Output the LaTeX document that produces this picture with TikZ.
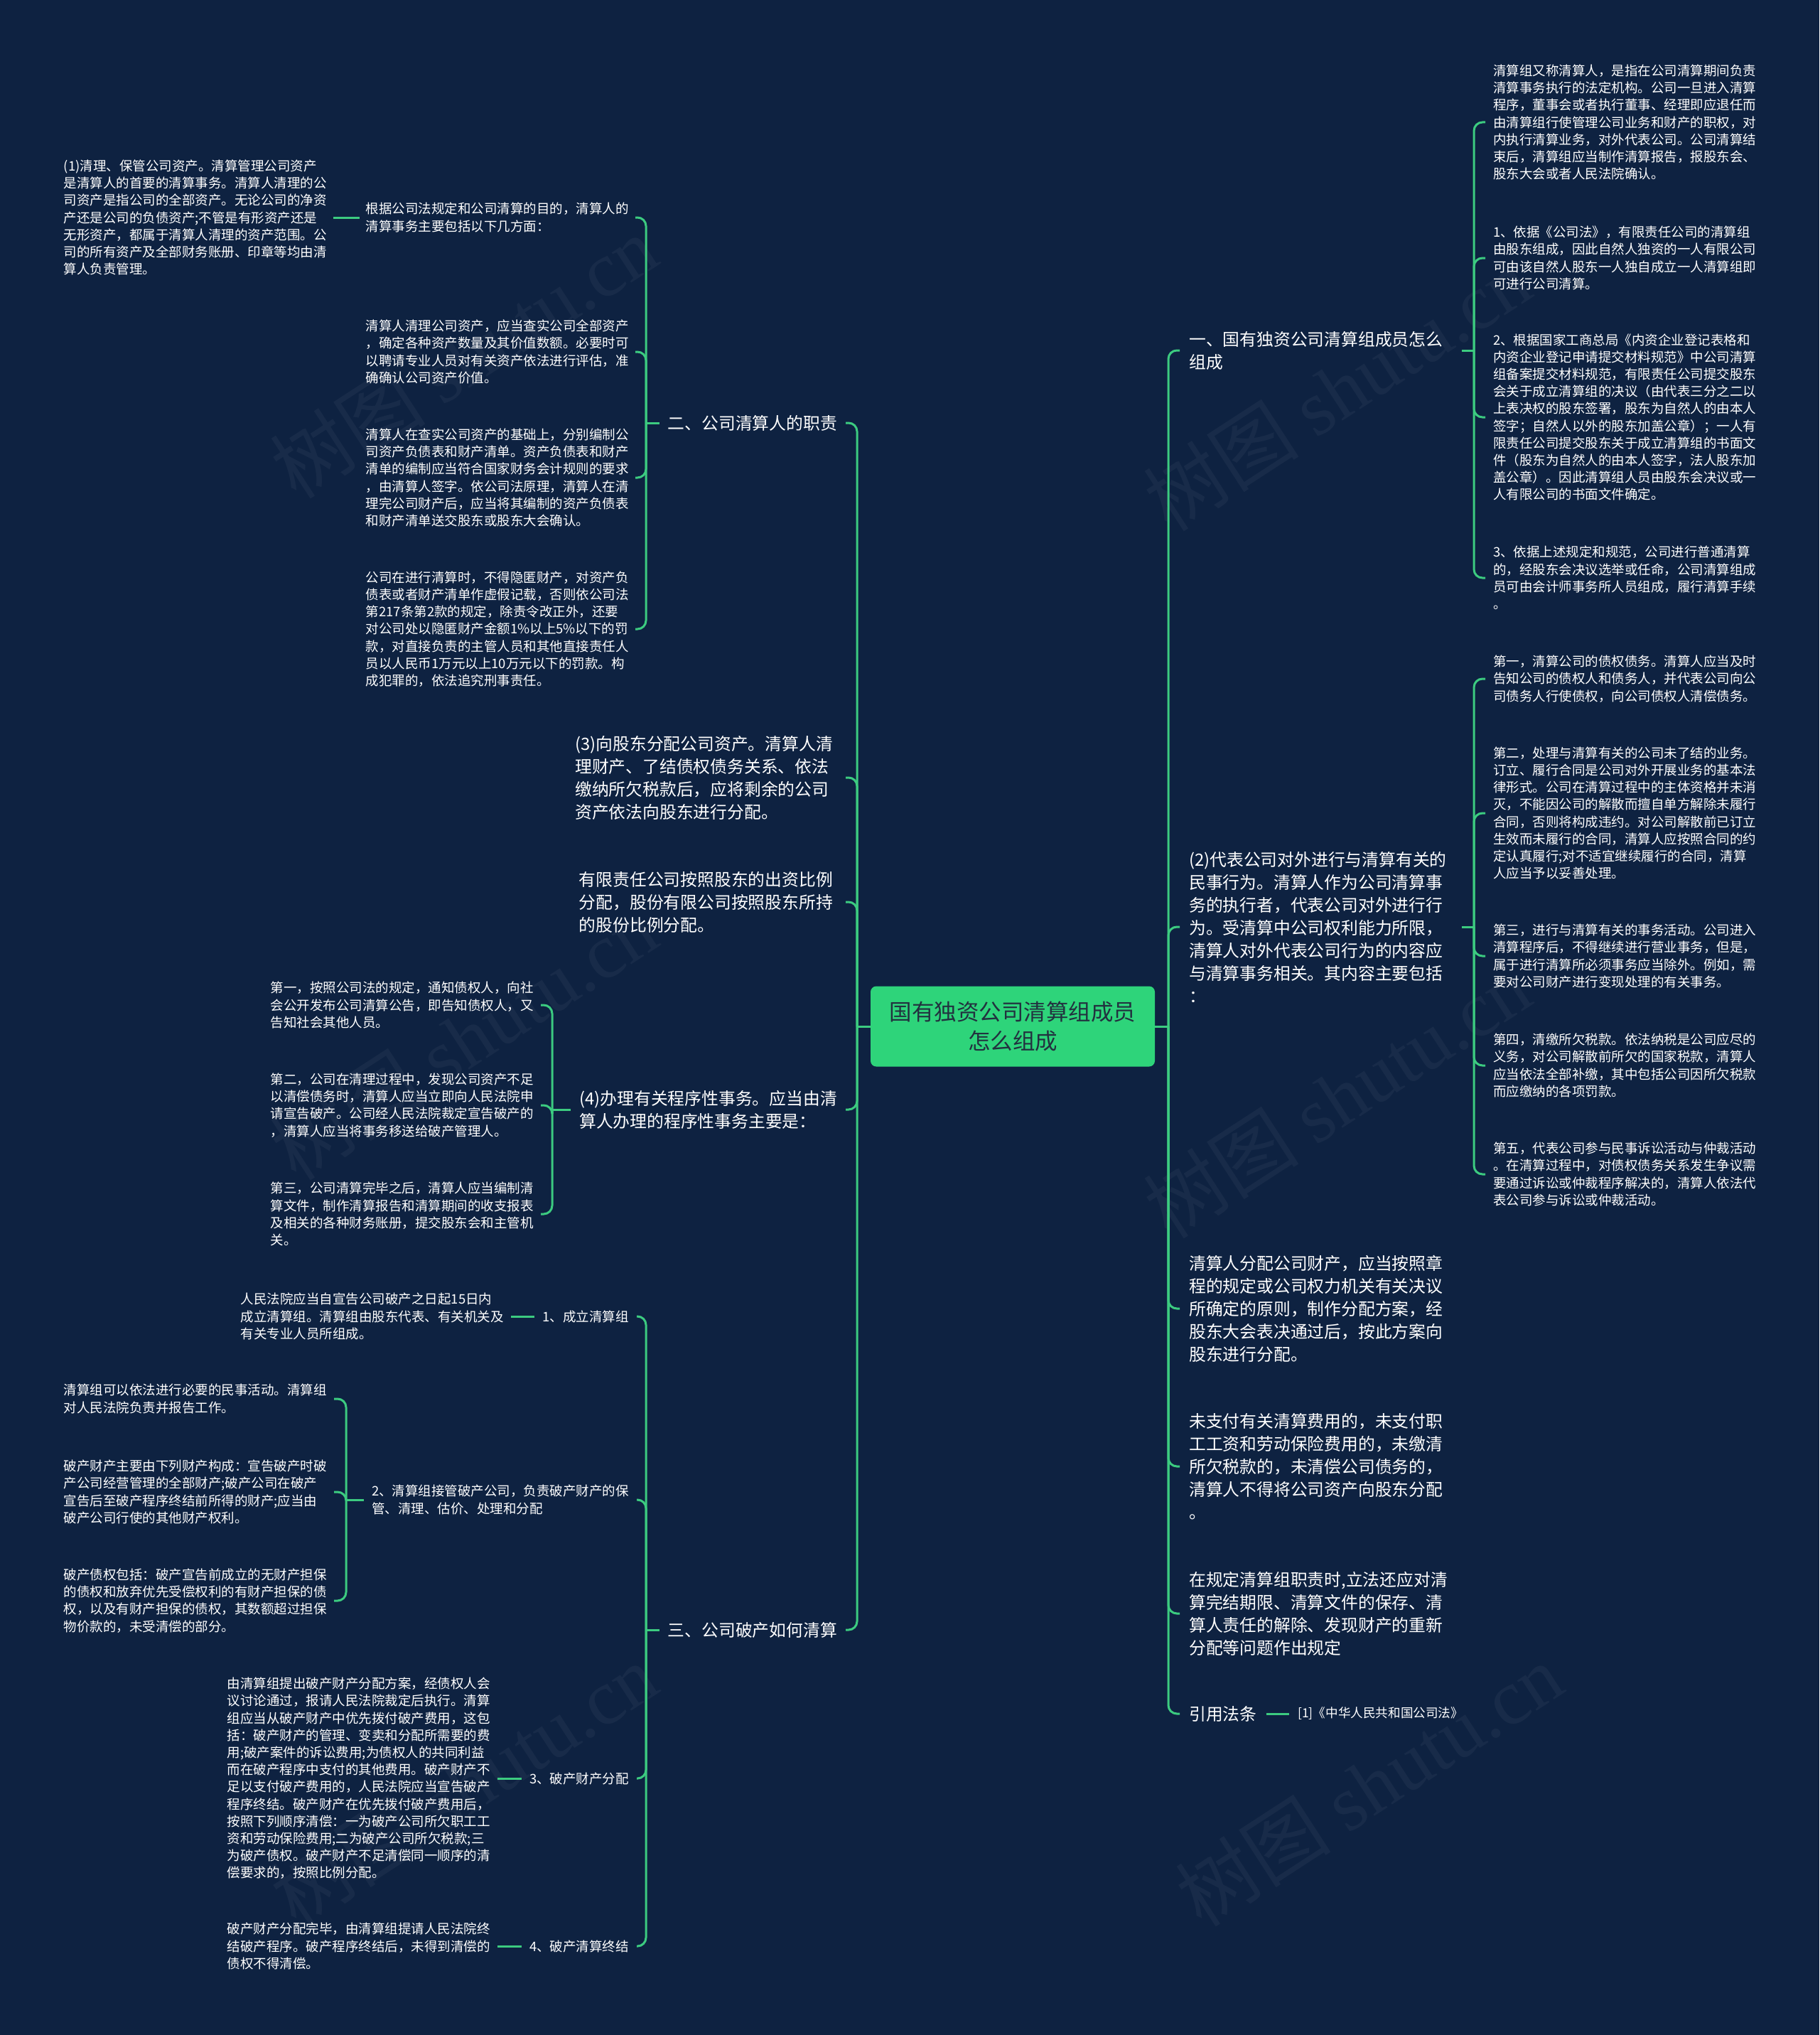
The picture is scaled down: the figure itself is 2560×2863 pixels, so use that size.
\documentclass[tikz,border=0pt]{standalone}
\usepackage{fontspec}
\setmainfont{Noto Sans CJK SC}
\newfontfamily\wmlatin{Liberation Serif}
\definecolor{bg}{HTML}{0E2241}
\definecolor{lc}{HTML}{3CCB80}
\definecolor{rootc}{HTML}{2ED47A}
\definecolor{roottext}{HTML}{22313F}
\tikzset{
  edge/.style={draw=lc, line width=3pt, rounded corners=12pt},
  sm/.style={text=white, font=\fontsize{18.5}{24.2}\selectfont, align=left, inner ysep=0pt},
  big/.style={text=white, font=\fontsize{23.8}{32}\selectfont, align=left, inner ysep=0pt},
  rone/.style={big, anchor=west, inner xsep=13pt},
  rtwo/.style={sm, anchor=west, inner xsep=11pt},
  lone/.style={big, anchor=east, inner xsep=12pt},
  ltwo/.style={sm, anchor=east, inner xsep=9pt},
  citebox/.style={text=white, font=\fontsize{17.6}{22}\selectfont, anchor=west, inner xsep=12pt, inner ysep=0pt},
  rootbox/.style={fill=rootc, rounded corners=8pt, minimum width=400pt, minimum height=113pt, text=roottext, font=\fontsize{31.5}{41}\selectfont, align=center, inner sep=0pt},
  wm/.style={text=white, opacity=0.045, font=\fontsize{110}{110}\selectfont, rotate=33, inner sep=0pt}
}
\begin{document}
\begin{tikzpicture}[x=1pt,y=-1pt]
\path[fill=bg] (0,0) rectangle (2560,2863);
\useasboundingbox (0,0) rectangle (2560,2863);

% watermarks
\node[wm] (w1) at (652,502) {树图 {\wmlatin shutu.cn}};
\node[wm] (w2) at (1881,548) {树图 {\wmlatin shutu.cn}};
\node[wm] (w3) at (652,1461) {树图 {\wmlatin shutu.cn}};
\node[wm] (w4) at (1881,1543) {树图 {\wmlatin shutu.cn}};
\node[wm] (w5) at (652,2511) {树图 {\wmlatin shutu.cn}};
\node[wm] (w6) at (1926,2511) {树图 {\wmlatin shutu.cn}};

% root
\node[rootbox] (root) at (1425,1444) {国有独资公司清算组成员\\怎么组成};

% spine coordinates
\coordinate (RS) at (1644,1444);
\coordinate (LS) at (1206,1444);
\coordinate (R1s) at (2074,493);
\coordinate (R2s) at (2074,1304);
\coordinate (L1s) at (909,595);
\coordinate (L4s) at (777,1561);
\coordinate (L5s) at (909,2293);
\coordinate (L5bs) at (487,2110);

% ---------- right level 1 ----------
\node[rone, text width=371pt] (R1) at (1660,493) {一、国有独资公司清算组成员怎么\\组成};
\node[rone, text width=371pt] (R2) at (1660,1304) {(2)代表公司对外进行与清算有关的\\民事行为。清算人作为公司清算事\\务的执行者，代表公司对外进行行\\为。受清算中公司权利能力所限，\\清算人对外代表公司行为的内容应\\与清算事务相关。其内容主要包括\\：};
\node[rone] (R3) at (1660,1841) {清算人分配公司财产，应当按照章\\程的规定或公司权力机关有关决议\\所确定的原则，制作分配方案，经\\股东大会表决通过后，按此方案向\\股东进行分配。};
\node[rone] (R4) at (1660,2063) {未支付有关清算费用的，未支付职\\工工资和劳动保险费用的，未缴清\\所欠税款的，未清偿公司债务的，\\清算人不得将公司资产向股东分配\\。};
\node[rone] (R5) at (1660,2270) {在规定清算组职责时,立法还应对清\\算完结期限、清算文件的保存、清\\算人责任的解除、发现财产的重新\\分配等问题作出规定};
\node[rone] (R6) at (1660,2411) {引用法条};
\node[citebox] (cite) at (1814,2411) {[1]《中华人民共和国公司法》};

% ---------- right level 2 ----------
\node[rtwo] (R1a) at (2090,172) {清算组又称清算人，是指在公司清算期间负责\\清算事务执行的法定机构。公司一旦进入清算\\程序，董事会或者执行董事、经理即应退任而\\由清算组行使管理公司业务和财产的职权，对\\内执行清算业务，对外代表公司。公司清算结\\束后，清算组应当制作清算报告，报股东会、\\股东大会或者人民法院确认。};
\node[rtwo] (R1b) at (2090,363) {1、依据《公司法》，有限责任公司的清算组\\由股东组成，因此自然人独资的一人有限公司\\可由该自然人股东一人独自成立一人清算组即\\可进行公司清算。};
\node[rtwo] (R1c) at (2090,587) {2、根据国家工商总局《内资企业登记表格和\\内资企业登记申请提交材料规范》中公司清算\\组备案提交材料规范，有限责任公司提交股东\\会关于成立清算组的决议（由代表三分之二以\\上表决权的股东签署，股东为自然人的由本人\\签字；自然人以外的股东加盖公章）；一人有\\限责任公司提交股东关于成立清算组的书面文\\件（股东为自然人的由本人签字，法人股东加\\盖公章）。因此清算组人员由股东会决议或一\\人有限公司的书面文件确定。};
\node[rtwo] (R1d) at (2090,813) {3、依据上述规定和规范，公司进行普通清算\\的，经股东会决议选举或任命，公司清算组成\\员可由会计师事务所人员组成，履行清算手续\\。};
\node[rtwo] (R2a) at (2090,955) {第一，清算公司的债权债务。清算人应当及时\\告知公司的债权人和债务人，并代表公司向公\\司债务人行使债权，向公司债权人清偿债务。};
\node[rtwo] (R2b) at (2090,1144) {第二，处理与清算有关的公司未了结的业务。\\订立、履行合同是公司对外开展业务的基本法\\律形式。公司在清算过程中的主体资格并未消\\灭，不能因公司的解散而擅自单方解除未履行\\合同，否则将构成违约。对公司解散前已订立\\生效而未履行的合同，清算人应按照合同的约\\定认真履行;对不适宜继续履行的合同，清算\\人应当予以妥善处理。};
\node[rtwo] (R2c) at (2090,1345) {第三，进行与清算有关的事务活动。公司进入\\清算程序后，不得继续进行营业事务，但是，\\属于进行清算所必须事务应当除外。例如，需\\要对公司财产进行变现处理的有关事务。};
\node[rtwo] (R2d) at (2090,1499) {第四，清缴所欠税款。依法纳税是公司应尽的\\义务，对公司解散前所欠的国家税款，清算人\\应当依法全部补缴，其中包括公司因所欠税款\\而应缴纳的各项罚款。};
\node[rtwo] (R2e) at (2090,1652) {第五，代表公司参与民事诉讼活动与仲裁活动\\。在清算过程中，对债权债务关系发生争议需\\要通过诉讼或仲裁程序解决的，清算人依法代\\表公司参与诉讼或仲裁活动。};

% ---------- left level 1 ----------
\node[lone] (L1) at (1190,595) {二、公司清算人的职责};
\node[lone] (L2) at (1184,1094) {(3)向股东分配公司资产。清算人清\\理财产、了结债权债务关系、依法\\缴纳所欠税款后，应将剩余的公司\\资产依法向股东进行分配。};
\node[lone] (L3) at (1184,1269) {有限责任公司按照股东的出资比例\\分配，股份有限公司按照股东所持\\的股份比例分配。};
\node[lone] (L4) at (1190,1561) {(4)办理有关程序性事务。应当由清\\算人办理的程序性事务主要是：};
\node[lone] (L5) at (1190,2293) {三、公司破产如何清算};

% ---------- left level 2 ----------
\node[ltwo] (L1a) at (894,306) {根据公司法规定和公司清算的目的，清算人的\\清算事务主要包括以下几方面：};
\node[ltwo] (L1a1) at (469,306) {(1)清理、保管公司资产。清算管理公司资产\\是清算人的首要的清算事务。清算人清理的公\\司资产是指公司的全部资产。无论公司的净资\\产还是公司的负债资产;不管是有形资产还是\\无形资产，都属于清算人清理的资产范围。公\\司的所有资产及全部财务账册、印章等均由清\\算人负责管理。};
\node[ltwo] (L1b) at (894,495) {清算人清理公司资产，应当查实公司全部资产\\，确定各种资产数量及其价值数额。必要时可\\以聘请专业人员对有关资产依法进行评估，准\\确确认公司资产价值。};
\node[ltwo] (L1c) at (894,672) {清算人在查实公司资产的基础上，分别编制公\\司资产负债表和财产清单。资产负债表和财产\\清单的编制应当符合国家财务会计规则的要求\\，由清算人签字。依公司法原理，清算人在清\\理完公司财产后，应当将其编制的资产负债表\\和财产清单送交股东或股东大会确认。};
\node[ltwo] (L1d) at (894,885) {公司在进行清算时，不得隐匿财产，对资产负\\债表或者财产清单作虚假记载，否则依公司法\\第217条第2款的规定，除责令改正外，还要\\对公司处以隐匿财产金额1\%以上5\%以下的罚\\款，对直接负责的主管人员和其他直接责任人\\员以人民币1万元以上10万元以下的罚款。构\\成犯罪的，依法追究刑事责任。};

\node[ltwo, inner xsep=10pt] (L4a) at (761,1414) {第一，按照公司法的规定，通知债权人，向社\\会公开发布公司清算公告，即告知债权人，又\\告知社会其他人员。};
\node[ltwo, inner xsep=10pt] (L4b) at (761,1555) {第二，公司在清理过程中，发现公司资产不足\\以清偿债务时，清算人应当立即向人民法院申\\请宣告破产。公司经人民法院裁定宣告破产的\\，清算人应当将事务移送给破产管理人。};
\node[ltwo, inner xsep=10pt] (L4c) at (761,1708) {第三，公司清算完毕之后，清算人应当编制清\\算文件，制作清算报告和清算期间的收支报表\\及相关的各种财务账册，提交股东会和主管机\\关。};

\node[ltwo, inner xsep=11pt] (L5a) at (896,1852) {1、成立清算组};
\node[ltwo, inner xsep=10pt] (L5a1) at (719,1852) {人民法院应当自宣告公司破产之日起15日内\\成立清算组。清算组由股东代表、有关机关及\\有关专业人员所组成。};
\node[ltwo, inner xsep=11pt] (L5b) at (896,2110) {2、清算组接管破产公司，负责破产财产的保\\管、清理、估价、处理和分配};
\node[ltwo, inner xsep=10pt] (L5b1) at (470,1968) {清算组可以依法进行必要的民事活动。清算组\\对人民法院负责并报告工作。};
\node[ltwo, inner xsep=10pt] (L5b2) at (470,2099) {破产财产主要由下列财产构成：宣告破产时破\\产公司经营管理的全部财产;破产公司在破产\\宣告后至破产程序终结前所得的财产;应当由\\破产公司行使的其他财产权利。};
\node[ltwo, inner xsep=10pt] (L5b3) at (470,2252) {破产债权包括：破产宣告前成立的无财产担保\\的债权和放弃优先受偿权利的有财产担保的债\\权，以及有财产担保的债权，其数额超过担保\\物价款的，未受清偿的部分。};
\node[ltwo, inner xsep=11pt] (L5c) at (896,2502) {3、破产财产分配};
\node[ltwo, inner xsep=10pt] (L5c1) at (700,2502) {由清算组提出破产财产分配方案，经债权人会\\议讨论通过，报请人民法院裁定后执行。清算\\组应当从破产财产中优先拨付破产费用，这包\\括：破产财产的管理、变卖和分配所需要的费\\用;破产案件的诉讼费用;为债权人的共同利益\\而在破产程序中支付的其他费用。破产财产不\\足以支付破产费用的，人民法院应当宣告破产\\程序终结。破产财产在优先拨付破产费用后，\\按照下列顺序清偿：一为破产公司所欠职工工\\资和劳动保险费用;二为破产公司所欠税款;三\\为破产债权。破产财产不足清偿同一顺序的清\\偿要求的，按照比例分配。};
\node[ltwo, inner xsep=11pt] (L5d) at (896,2738) {4、破产清算终结};
\node[ltwo, inner xsep=10pt] (L5d1) at (700,2738) {破产财产分配完毕，由清算组提请人民法院终\\结破产程序。破产程序终结后，未得到清偿的\\债权不得清偿。};

% ---------- connectors ----------
\draw[edge] (root.east) -- (RS);
\draw[edge] (root.west) -- (LS);
\foreach \n in {R1,R2,R3,R4,R5,R6} \draw[edge] (RS) |- (\n.west);
\draw[edge] (R6.east) -- (cite.west);
\draw[edge] (R1.east) -- (R1s);
\foreach \n in {R1a,R1b,R1c,R1d} \draw[edge] (R1s) |- (\n.west);
\draw[edge] (R2.east) -- (R2s);
\foreach \n in {R2a,R2b,R2c,R2d,R2e} \draw[edge] (R2s) |- (\n.west);

\draw[edge] (LS) |- (L1.east);
\draw[edge] (LS) |- ([xshift=6pt]L2.east);
\draw[edge] (LS) |- ([xshift=6pt]L3.east);
\draw[edge] (LS) |- (L4.east);
\draw[edge] (LS) |- (L5.east);
\draw[edge] (L1.west) -- (L1s);
\foreach \n in {L1a,L1b,L1c,L1d} \draw[edge] (L1s) |- (\n.east);
\draw[edge] (L1a.west) -- (L1a1.east);
\draw[edge] (L4.west) -- (L4s);
\foreach \n in {L4a,L4b,L4c} \draw[edge] (L4s) |- (\n.east);
\draw[edge] (L5.west) -- (L5s);
\foreach \n in {L5a,L5b,L5c,L5d} \draw[edge] (L5s) |- (\n.east);
\draw[edge] (L5a.west) -- (L5a1.east);
\draw[edge] (L5b.west) -- (L5bs);
\foreach \n in {L5b1,L5b2,L5b3} \draw[edge] (L5bs) |- (\n.east);
\draw[edge] (L5c.west) -- (L5c1.east);
\draw[edge] (L5d.west) -- (L5d1.east);
\end{tikzpicture}
\end{document}
